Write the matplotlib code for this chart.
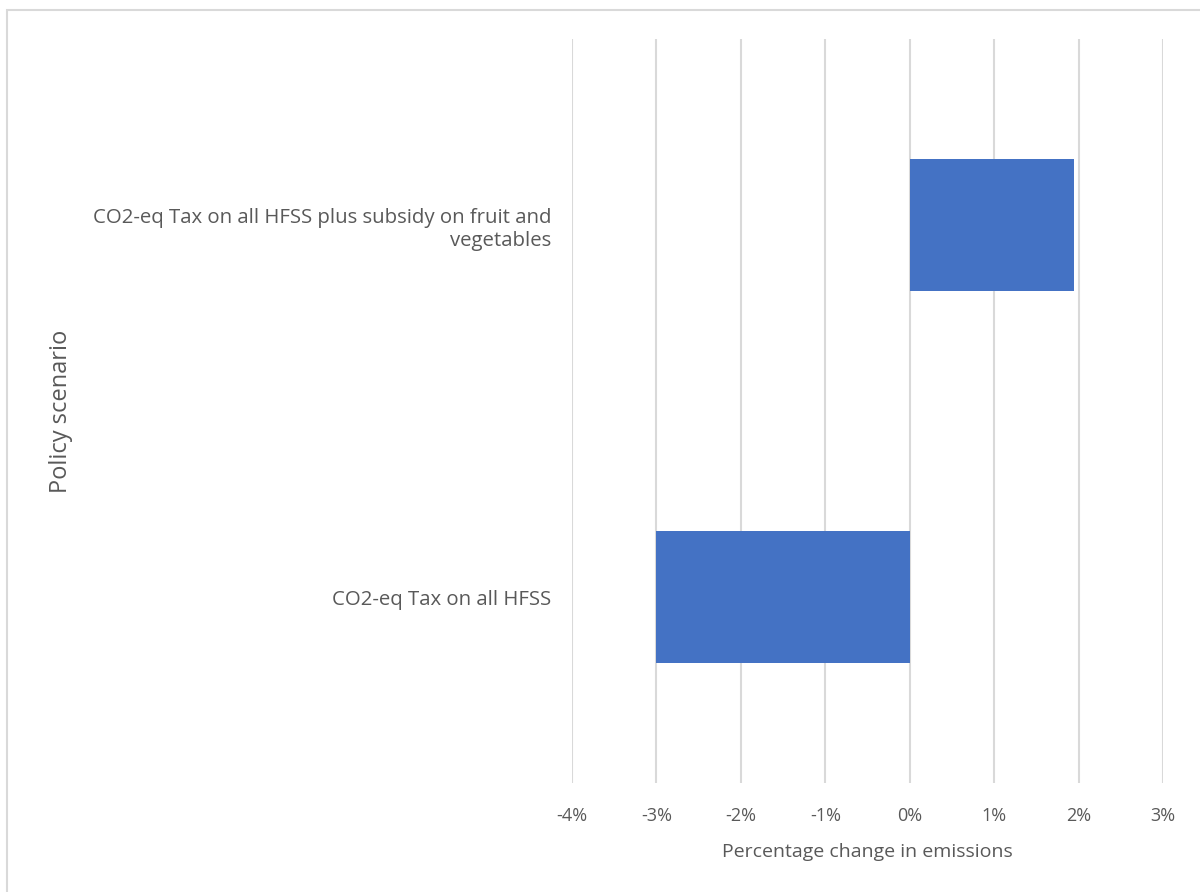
import matplotlib.pyplot as plt
from matplotlib.patches import Rectangle
from matplotlib.ticker import FuncFormatter

# data
scenarios = ["CO2-eq Tax on all HFSS",
             "CO2-eq Tax on all HFSS plus subsidy on fruit and\nvegetables"]
change_pct = [-3.0, 1.95]
xticks = [-4, -3, -2, -1, 0, 1, 2, 3]

plt.rcParams['font.family'] = ['Open Sans', 'DejaVu Sans']
text_col = "#595959"

fig = plt.figure(figsize=(12, 8.92), dpi=100)
ax = fig.add_axes([572 / 1200, 1 - 783 / 892, (1163 - 572) / 1200, (783 - 39) / 892])

ax.barh(range(len(scenarios)), change_pct, height=0.355, color="#4472C4", zorder=3)

ax.set_xlim(-4, 3)
ax.set_ylim(-0.5, len(scenarios) - 0.5)
ax.set_xticks(xticks)
ax.xaxis.set_major_formatter(FuncFormatter(lambda v, p: f"{v:.0f}%"))
ax.set_yticks(range(len(scenarios)))
ax.set_yticklabels(scenarios, fontsize=14.7)
ax.grid(axis='x', color="#d9d9d9", linewidth=1.5, zorder=0)
for s in ax.spines.values():
    s.set_visible(False)
ax.tick_params(axis='both', length=0, colors=text_col)
ax.tick_params(axis='x', pad=17, labelsize=13)
ax.tick_params(axis='y', pad=15)

ax.set_xlabel("Percentage change in emissions", fontsize=14, color=text_col, labelpad=13)
ax.set_ylabel("Policy scenario", fontsize=17, color=text_col)
ax.yaxis.set_label_coords((73 - 572) / (1163 - 572), 0.5)

# chart border like the Excel chart area
fig.patches.append(Rectangle((7 / 1200, -0.05), 1.1, 1.05 - 10 / 892, transform=fig.transFigure,
                             fill=False, edgecolor="#d9d9d9", linewidth=1.5))

fig.savefig("out.png", dpi=100)
